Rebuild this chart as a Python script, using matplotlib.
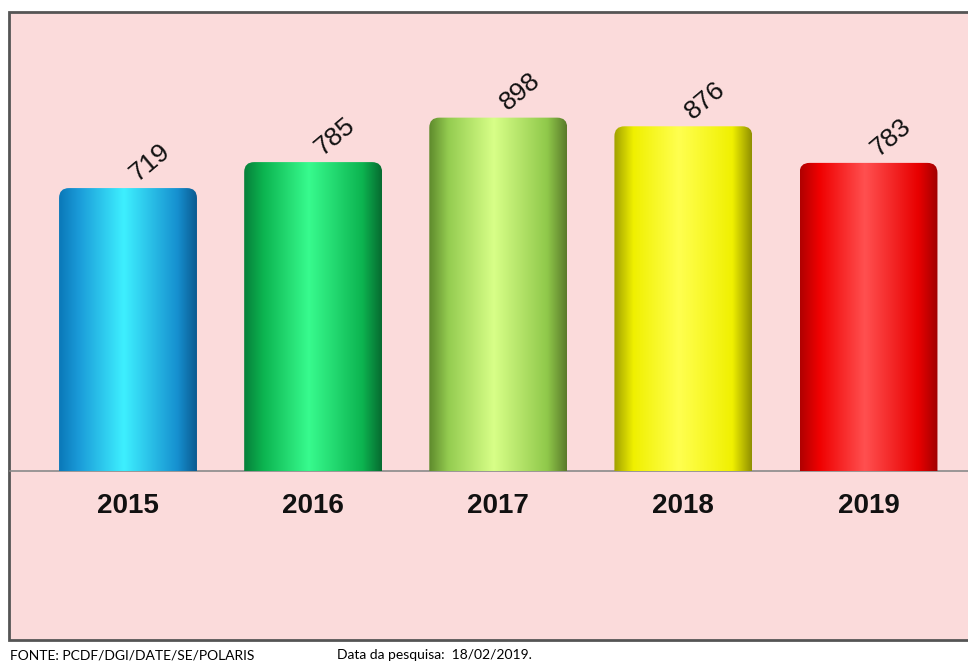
import numpy as np
import matplotlib.pyplot as plt
from matplotlib.patches import FancyBboxPatch, Rectangle
from matplotlib.colors import LinearSegmentedColormap

# dados
anos = ['2015', '2016', '2017', '2018', '2019']
valores = [719, 785, 898, 876, 783]

# degradês tipo cilindro (esquerda -> direita)
cores = [
    ['#0a78b8', '#1a9ad8', '#3ef0ff', '#1690d0', '#0a5a90'],
    ['#07803a', '#0cb450', '#38fb8e', '#0cb450', '#066b30'],
    ['#5e8a2c', '#94cc50', '#d8ff88', '#8fc84a', '#5a7a2a'],
    ['#a0a000', '#f0f000', '#ffff50', '#f0f000', '#909000'],
    ['#b00000', '#f00000', '#ff5050', '#e80000', '#a00000'],
]
posicoes = [0.0, 0.14, 0.47, 0.86, 1.0]

W, H = 968, 661
fig = plt.figure(figsize=(W / 100, H / 100), dpi=100)
fig.patch.set_facecolor('white')

# painel rosa com borda
fig.patches.append(Rectangle((9 / W, 21 / H), 1.0, (640 - 12) / H,
                             transform=fig.transFigure, facecolor='#fbdbdb',
                             edgecolor='#555555', linewidth=2, zorder=-5))

ax_l, ax_r, ax_b, ax_t = 10, 968, 471, 13
ax = fig.add_axes([ax_l / W, (H - ax_b) / H, (ax_r - ax_l) / W, (ax_b - ax_t) / H])
ax.set_facecolor('none')

x = np.arange(len(anos))
xmin, xmax = -0.6375, 4.5375
ymax = (ax_b - ax_t) / 0.3935
ax.set_xlim(xmin, xmax)
ax.set_ylim(0, ymax)

largura = 0.745
barras = ax.bar(x, valores, width=largura, color='none', zorder=2)

# aspecto para cantos arredondados em unidades de dados
px_x = (ax_r - ax_l) / (xmax - xmin)
px_y = (ax_b - ax_t) / ymax
aspecto = px_x / px_y
raio = 10 / px_x

grad = np.linspace(0, 1, 256).reshape(1, -1)
for b, c in zip(barras, cores):
    x0, w, h = b.get_x(), b.get_width(), b.get_height()
    forma = FancyBboxPatch((x0, -60), w, h + 60,
                           boxstyle='round,pad=0,rounding_size=%f' % raio,
                           mutation_aspect=aspecto, facecolor='none',
                           edgecolor='none', transform=ax.transData)
    ax.add_patch(forma)
    cmap = LinearSegmentedColormap.from_list('c', list(zip(posicoes, c)))
    im = ax.imshow(grad, cmap=cmap, extent=(x0, x0 + w, 0, h), aspect='auto',
                   zorder=2, interpolation='bicubic')
    im.set_clip_path(forma)

# rótulos de valores inclinados
for i, v in zip(x, valores):
    ax.text(i + 0.07, v + 6, str(v), rotation=40, rotation_mode='anchor',
            ha='left', va='bottom', fontsize=19, family='Liberation Sans',
            color='#111111', zorder=3)

ax.set_xticks(x)
ax.set_xticklabels(anos, fontsize=20, fontweight='bold', family='Liberation Sans',
                   color='#111111')
ax.tick_params(axis='x', length=0, pad=16)
ax.set_yticks([])
for s in ['top', 'left', 'right']:
    ax.spines[s].set_visible(False)
ax.spines['bottom'].set_color('#8a8a8a')
ax.spines['bottom'].set_linewidth(1.2)
ax.spines['bottom'].set_zorder(1)

# rodapé
fig.text(10 / W, 1 - 655 / H, 'FONTE: PCDF/DGI/DATE/SE/POLARIS', fontsize=10,
         family='Lato', va='center', ha='left')
fig.text(337 / W, 1 - 655 / H, 'Data da pesquisa:  18/02/2019.', fontsize=10,
         family='Lato', va='center', ha='left')

plt.savefig('out.png', dpi=100)
